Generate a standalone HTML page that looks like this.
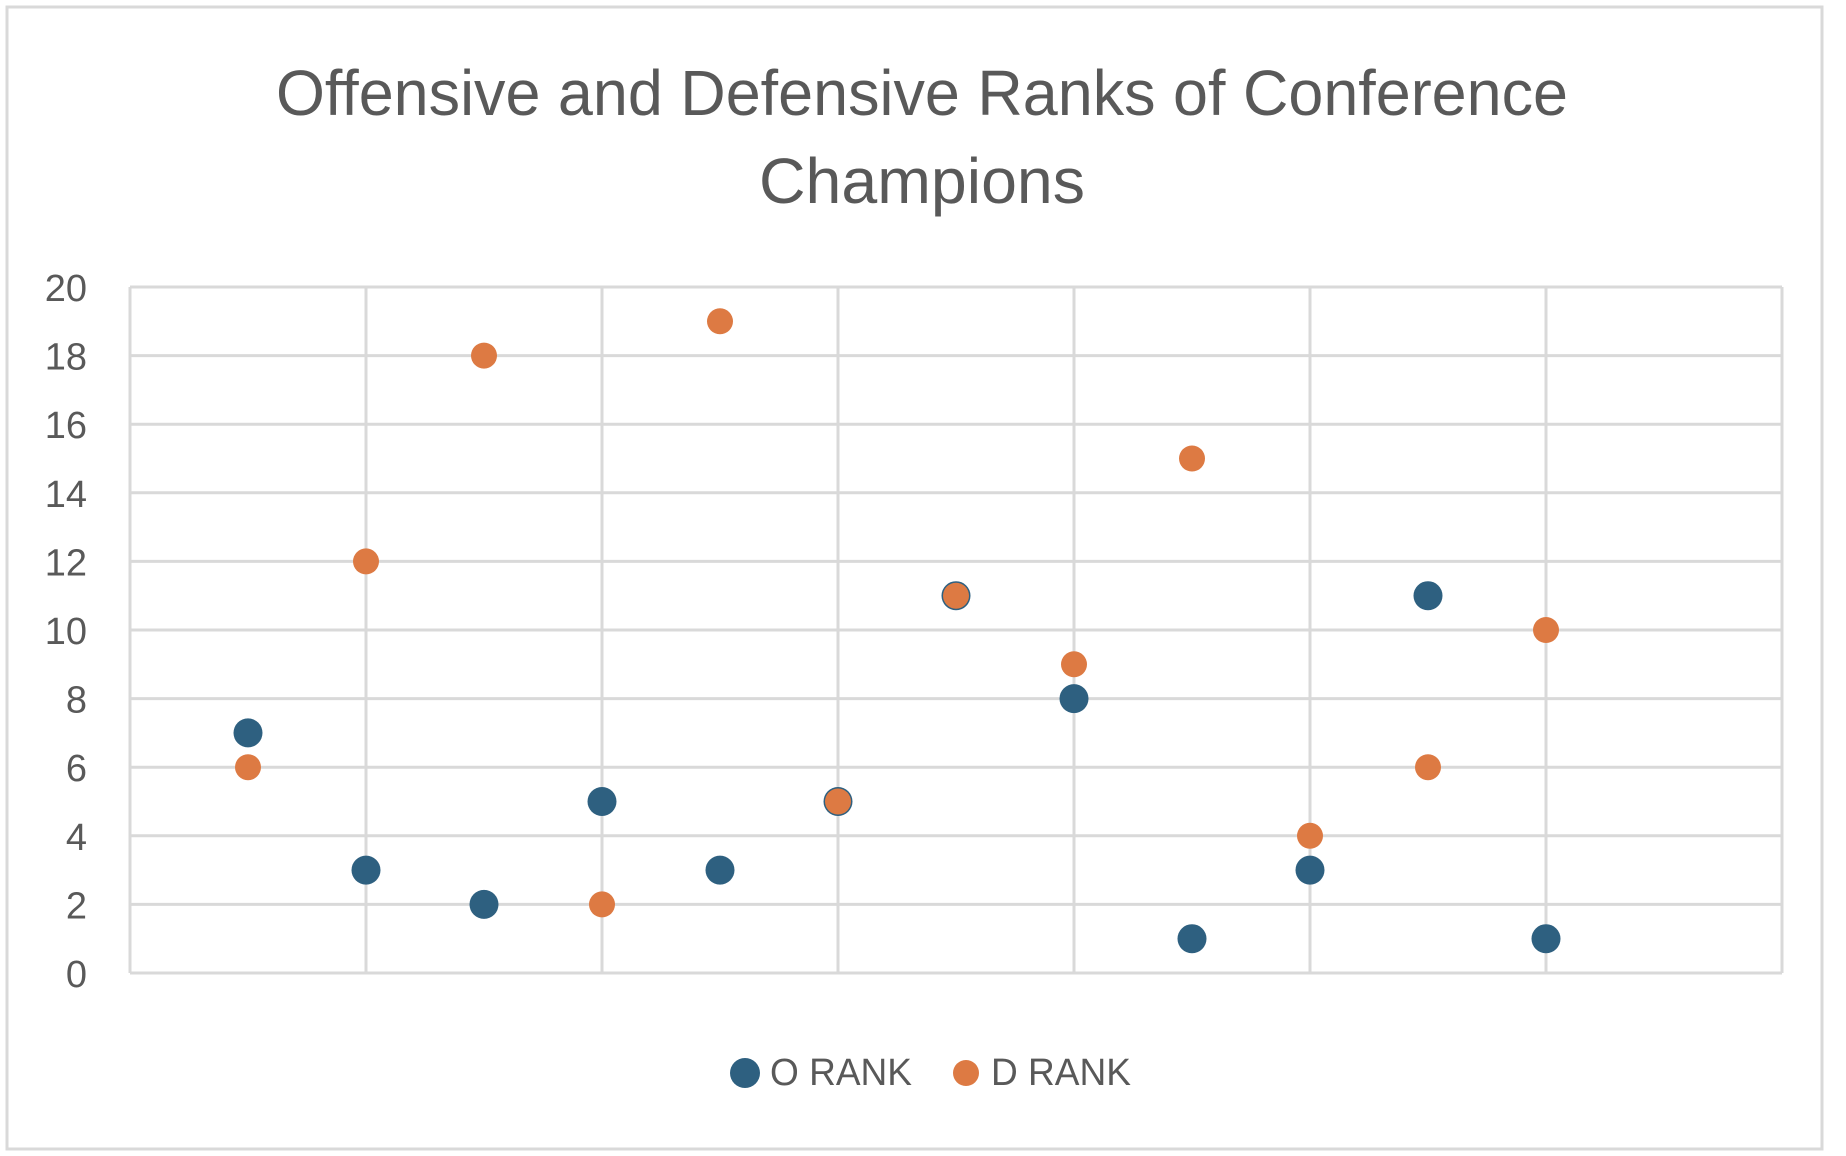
<!DOCTYPE html>
<html><head><meta charset="utf-8"><style>
html,body{margin:0;padding:0;background:#fff;}
svg{display:block;font-family:"Liberation Sans",sans-serif;}
</style></head><body>
<svg id="chart" width="1846" height="1156" viewBox="0 0 1846 1156">
<rect x="7" y="7" width="1815" height="1142" fill="#fff" stroke="#d9d9d9" stroke-width="3"/>
<g fill="#595959" font-size="64" text-anchor="middle">
<text x="922" y="115" textLength="1292" lengthAdjust="spacingAndGlyphs">Offensive and Defensive Ranks of Conference</text>
<text x="922" y="203" textLength="326" lengthAdjust="spacingAndGlyphs">Champions</text>
</g>
<g id="grid"></g>
<g id="yticks" fill="#595959" font-size="38" text-anchor="end"></g>
<g id="marks"></g>
<g>
<g>
<circle cx="745" cy="1073" r="15" fill="#2e6080"/>
<text x="770" y="1085" font-size="38" fill="#595959" textLength="142" lengthAdjust="spacingAndGlyphs">O RANK</text>
</g>
<g>
<circle cx="966" cy="1073" r="13" fill="#dd7a43"/>
<text x="991" y="1085" font-size="38" fill="#595959" textLength="140" lengthAdjust="spacingAndGlyphs">D RANK</text>
</g>
</g>
</svg>
<script>
const xValues = [0.5,1,1.5,2,2.5,3,3.5,4,4.5,5,5.5,6];
const oRank = [7,3,2,5,3,5,11,8,1,3,11,1];
const dRank = [6,12,18,2,19,5,11,9,15,4,6,10];
const yTicks = [0,2,4,6,8,10,12,14,16,18,20];
const xTicks = [0,1,2,3,4,5,6,7];

const L=130, R=1782, T=287, B=973;
const xMax=7, yMax=20;
function sx(v){return L+v*(R-L)/xMax;}
function sy(v){return B-v*(B-T)/yMax;}
const NS='http://www.w3.org/2000/svg';
const grid=document.getElementById('grid');
const yt=document.getElementById('yticks');
const marks=document.getElementById('marks');
function mk(tag,attrs,parent){const e=document.createElementNS(NS,tag);for(const k in attrs)e.setAttribute(k,attrs[k]);parent.appendChild(e);return e;}
yTicks.forEach(t=>{
  const l=mk('line',{x1:L,x2:R,y1:sy(t),y2:sy(t),stroke:'#d9d9d9','stroke-width':3},grid);
  
  
  const tx=mk('text',{x:87,y:sy(t)+14},yt);
  tx.textContent=t;
  
  
});
xTicks.forEach(t=>{
  const l=mk('line',{x1:sx(t),x2:sx(t),y1:T,y2:B,stroke:'#d9d9d9','stroke-width':3},grid);
  
  
});
xValues.forEach((x,i)=>{
  const c=mk('circle',{cx:sx(x),cy:sy(oRank[i]),r:14.5,fill:'#2e6080'},marks);
  
  
});
xValues.forEach((x,i)=>{
  const c=mk('circle',{cx:sx(x),cy:sy(dRank[i]),r:13,fill:'#dd7a43'},marks);
  
  
});
</script>
</body></html>
